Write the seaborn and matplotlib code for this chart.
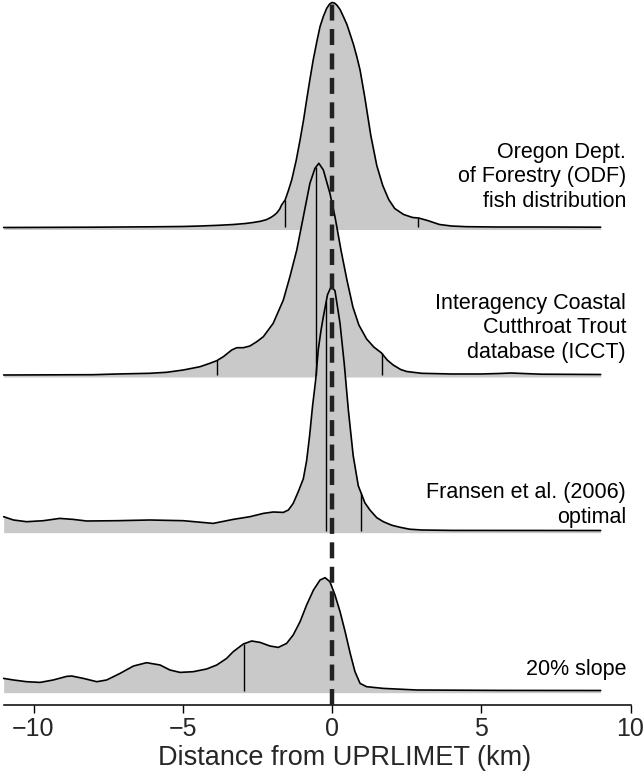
import numpy as np
import matplotlib
matplotlib.use("Agg")
import matplotlib.pyplot as plt
import seaborn as sns

# --- values (density in relative units) ---
labels = ["Oregon Dept.\nof Forestry (ODF)\nfish distribution",
          "Interagency Coastal\nCutthroat Trout\ndatabase (ICCT)",
          "Fransen et al. (2006)\noptimal",
          "20% slope"]

odf_x = [-11, -8, -6, -5, -4.4, -3.8, -3.3, -2.9, -2.64, -2.4, -2.2, -2.05, -1.95, -1.85, -1.75,
         -1.69, -1.57, -1.46, -1.35, -1.2, -1.07, -0.95, -0.85, -0.74, -0.63, -0.5, -0.4, -0.29,
         -0.18, -0.08, 0, 0.08, 0.16, 0.27, 0.38, 0.5, 0.6, 0.72, 0.83, 0.94, 1.1, 1.3,
         1.5, 1.7, 1.9, 2.1, 2.4, 2.7, 2.9, 3.2, 3.6, 4.0, 4.5, 5.5, 7, 9]
odf_d = [0.0, 0.003, 0.007, 0.01, 0.015, 0.022, 0.03, 0.04, 0.05, 0.062, 0.078, 0.1, 0.12, 0.145, 0.185,
         0.225, 0.275, 0.37, 0.475, 0.67, 0.875, 1.08, 1.275, 1.48, 1.675, 1.87, 2.01, 2.11,
         2.19, 2.235, 2.25, 2.245, 2.225, 2.18, 2.11, 2.03, 1.94, 1.83, 1.71, 1.575, 1.30, 0.92,
         0.62, 0.42, 0.28, 0.19, 0.13, 0.10, 0.095, 0.07, 0.03, 0.015, 0.008, 0.005, 0.005, 0.003]
odf_q = [-1.57, 2.89]

icct_x = [-11, -8, -7.2, -6.1, -5.54, -4.98, -4.42, -4.09, -3.86, -3.64, -3.36, -3.19, -2.97,
          -2.75, -2.52, -2.30, -1.97, -1.63, -1.41, -1.18, -0.96, -0.74, -0.57, -0.44, -0.29,
          -0.07, 0.1, 0.3, 0.5, 0.7, 0.9, 1.16, 1.4, 1.66, 1.85, 2.05, 2.3, 2.5, 3.0, 4.0,
          5.0, 5.6, 6.0, 6.4, 7.0, 9.0]
icct_d = [0.0, 0.003, 0.01, 0.017, 0.027, 0.05, 0.083, 0.117, 0.143, 0.183, 0.25, 0.273, 0.273,
          0.29, 0.333, 0.383, 0.517, 0.75, 0.983, 1.25, 1.583, 1.917, 2.067, 2.117, 2.05,
          1.817, 1.583, 1.25, 0.95, 0.68, 0.50, 0.36, 0.28, 0.22, 0.15, 0.10, 0.055, 0.035, 0.017, 0.01,
          0.01, 0.015, 0.02, 0.015, 0.008, 0.005]
icct_q = [-3.84, -0.54, 1.66]

fransen_x = [-11, -10.67, -10.23, -9.67, -9.12, -8.67, -8.22, -7.2, -6.1, -4.98, -3.98, -3.31,
             -2.75, -2.30, -1.97, -1.63, -1.46, -1.30, -1.13, -0.96, -0.85, -0.75,
             -0.65, -0.55, -0.46, -0.37, -0.29, -0.15, -0.03, 0.1, 0.27, 0.41, 0.55, 0.71, 0.88, 1.1,
             1.27, 1.5, 1.72, 2.0, 2.28, 2.6, 3.0, 4.0, 9.0]
fransen_d = [0.14, 0.107, 0.09, 0.10, 0.123, 0.113, 0.097, 0.10, 0.107, 0.10, 0.073, 0.113,
             0.14, 0.173, 0.187, 0.183, 0.207, 0.273, 0.39, 0.52, 0.70, 0.95,
             1.25, 1.50, 1.81, 2.0, 2.14, 2.36, 2.44, 2.40, 2.07, 1.67, 1.20, 0.75, 0.45, 0.28,
             0.207, 0.13, 0.09, 0.055, 0.034, 0.015, 0.007, 0.003, 0.002]
fransen_q = [-0.19, 0.97]

slope_x = [-11, -10.67, -10.23, -9.78, -9.34, -8.89, -8.72, -8.33, -7.88, -7.55, -7.10, -6.65,
           -6.21, -5.76, -5.43, -5.09, -4.65, -4.2, -3.86, -3.53, -3.31, -2.97, -2.69, -2.41,
           -2.08, -1.80, -1.52, -1.30, -1.07, -0.85, -0.62, -0.40, -0.23, -0.07, 0.10, 0.27,
           0.44, 0.61, 0.77, 0.94, 1.16, 1.72, 2.84, 5.63, 9.0]
slope_d = [0.123, 0.107, 0.09, 0.083, 0.107, 0.143, 0.147, 0.123, 0.09, 0.107, 0.173, 0.247,
           0.28, 0.257, 0.207, 0.183, 0.19, 0.217, 0.257, 0.323, 0.39, 0.467, 0.497, 0.483,
           0.447, 0.433, 0.473, 0.557, 0.69, 0.857, 1.007, 1.107, 1.13, 1.09, 0.957, 0.79,
           0.59, 0.373, 0.19, 0.073, 0.04, 0.023, 0.007, 0.003, 0.002]
slope_q = [-2.95]

xticks = [-10, -5, 0, 5, 10]

ridges = [(odf_x, odf_d, odf_q), (icct_x, icct_d, icct_q),
          (fransen_x, fransen_d, fransen_q), (slope_x, slope_d, slope_q)]
baselines = [4.775, 3.30, 1.743, 0.143]
label_y = [5.28, 3.77, 2.00, 0.35]

sns.set_theme(style="white")
plt.rcParams["font.family"] = ["Liberation Sans", "DejaVu Sans"]

fig = plt.figure(figsize=(6.44, 7.78), dpi=100)
ax = fig.add_axes([0, 73 / 778, 1, 705 / 778])

fill_col = "#c9c9c9"
for (x, d, q), base, lab, ly in zip(ridges, baselines, labels, label_y):
    x = np.asarray(x, float)
    d = np.asarray(d, float)
    ax.fill_between(x, base - 0.02, base + d, color=fill_col, lw=0, zorder=2)
    sns.lineplot(x=x, y=base + d, ax=ax, color="black", lw=1.2, sort=False,
                 estimator=None, zorder=3)
    tops = base + np.interp(q, x, d)
    ax.vlines(q, base, tops, color="black", lw=1.0, zorder=3)
    ax.text(9.85, ly, lab, ha="right", va="center", fontsize=15.5,
            linespacing=1.2, color="black")

ax.plot([0, 0], [0, 7.05], color="#222222", lw=3.2, linestyle=(0, (3.6, 1.9)),
        zorder=5, solid_capstyle="butt", dash_capstyle="butt")

ax.set_xlim(-332 / 29.85, (644 - 332) / 29.85)
ax.set_ylim(0, 7.05)
for s in ["left", "top", "right"]:
    ax.spines[s].set_visible(False)
ax.spines["bottom"].set_bounds(-11, 10)
ax.spines["bottom"].set_linewidth(1.1)
ax.spines["bottom"].set_color("black")
ax.set_yticks([])
ax.set_xticks(xticks)
ax.set_xticklabels([str(t).replace("-", "\u2212") for t in xticks])
ax.tick_params(axis="x", direction="out", length=6, width=1.0, color="black",
               labelsize=18, pad=3, bottom=True)
ax.set_xlabel("Distance from UPRLIMET (km)", fontsize=19.5, va="center")
ax.xaxis.set_label_coords(345 / 644, -53 / 705)
ax.patch.set_alpha(0)

fig.savefig("out.png", dpi=100)
